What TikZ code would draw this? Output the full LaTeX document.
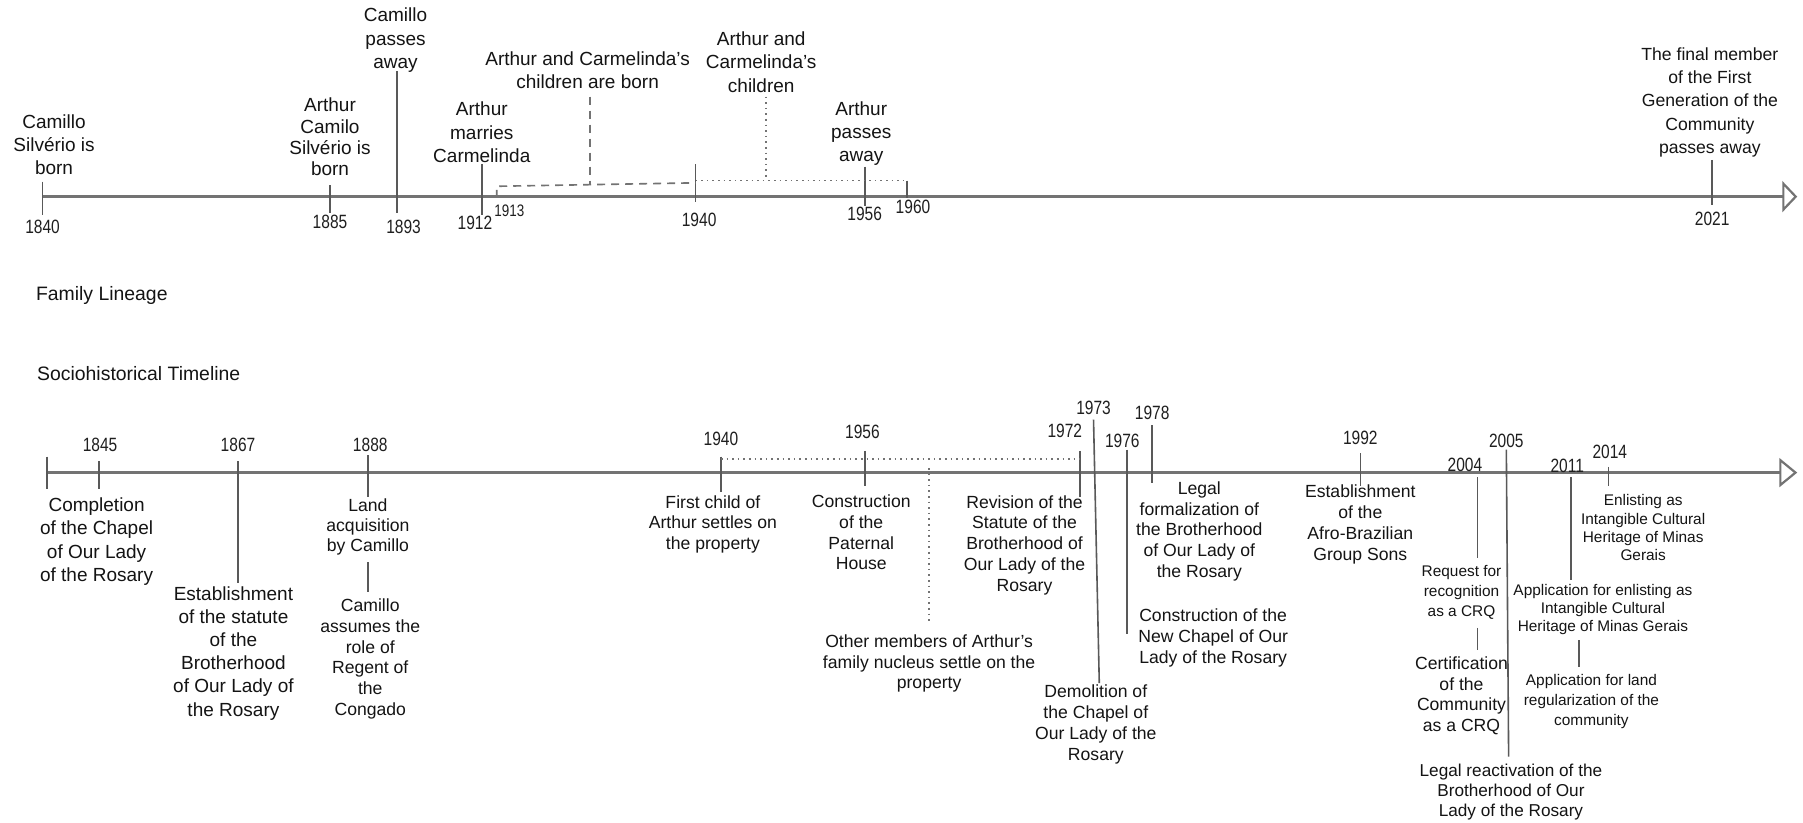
\documentclass[tikz,border=0pt]{standalone}
\usepackage{fontspec}
\setmainfont{Liberation Sans}
\usepackage{graphicx}
\usetikzlibrary{arrows.meta}
\newcommand{\yrtxt}[1]{\scalebox{1.05}[1.3]{#1}}
\begin{document}
\begin{tikzpicture}[x=0.575pt,y=-0.575pt,
 tA/.style={align=center,inner sep=0pt,font=\fontsize{9.5}{11.6}\selectfont,text=black!92},
 tE/.style={align=center,inner sep=0pt,font=\fontsize{8.8}{11.6}\selectfont,text=black!92},
 tB/.style={align=center,inner sep=0pt,font=\fontsize{8.8}{10.4}\selectfont,text=black!92},
 tC/.style={align=center,inner sep=0pt,font=\fontsize{7.7}{9.2}\selectfont,text=black!92},
 head/.style={anchor=west,inner sep=0pt,font=\fontsize{9.7}{11}\selectfont,text=black!92},
 yr/.style={inner sep=0pt,font=\fontsize{7.4}{8}\selectfont,text=black!88},
 yrs/.style={inner sep=0pt,font=\fontsize{6.4}{7}\selectfont,text=black!88},
 axisline/.style={draw=black!55,line width=1.3pt},
 tickline/.style={draw=black!65,line width=0.8pt},
 dashline/.style={draw=black!55,line width=0.8pt,dash pattern=on 4pt off 3pt},
 dotline/.style={draw=black!55,line width=0.8pt,dash pattern=on 0.8pt off 2pt},
]
\useasboundingbox[fill=white] (0,0) rectangle (1568,715);

% ---------------- TOP: Family Lineage ----------------
\coordinate (ta0) at (37,171);
\coordinate (ta1) at (1563,171);
\draw[axisline,-{Triangle[open,length=7.5pt,width=15.5pt,line width=1.1pt]}] (ta0) -- (ta1);

\node[tA] (t1840) at (47,126) {Camillo\\Silvério is\\born};
\node[tA,font=\fontsize{9.5}{10.6}\selectfont] (t1885) at (287,119) {Arthur\\Camilo\\Silvério is\\born};
\node[tA] (t1893) at (344,35) {Camillo\\passes\\away};
\node[tA] (t1912) at (419,115) {Arthur\\marries\\Carmelinda};
\node[tA] (tkids) at (511,61) {Arthur and Carmelinda's\\children are born};
\node[tA] (tkids2) at (662,54) {Arthur and\\Carmelinda's\\children};
\node[tA] (t1956) at (749,116) {Arthur\\passes\\away};
\node[tE] (t2021) at (1487,89) {The final member\\of the First\\Generation of the\\Community\\passes away};

\coordinate (k1840a) at (37,158);  \coordinate (k1840b) at (37,187);
\coordinate (k1885a) at (287,161); \coordinate (k1885b) at (287,185);
\coordinate (k1893a) at (345,62);  \coordinate (k1893b) at (345,185);
\coordinate (k1912a) at (419,143); \coordinate (k1912b) at (419,187);
\coordinate (k1940a) at (605,143); \coordinate (k1940b) at (605,176);
\coordinate (k1956a) at (752,145); \coordinate (k1956b) at (752,179);
\coordinate (k1960a) at (789,157); \coordinate (k1960b) at (789,172);
\coordinate (k2021a) at (1489,139); \coordinate (k2021b) at (1489,178);
\foreach \k in {1840,1885,1893,1912,1940,1956,1960,2021}
  \draw[tickline] (k\k a) -- (k\k b);

\coordinate (d1) at (432,172); \coordinate (d2) at (432,162);
\coordinate (d3) at (605,159);
\coordinate (dm1) at (513,84); \coordinate (dm2) at (513,160.5);
\draw[dashline] (d1) -- (d2) -- (d3);
\draw[dashline] (dm1) -- (dm2);

\coordinate (o1) at (605,157); \coordinate (o2) at (789,157);
\coordinate (om1) at (666,84); \coordinate (om2) at (666,157);
\draw[dotline] (o1) -- (o2);
\draw[dotline] (om1) -- (om2);

\node[yr] (y1840) at (37,197) {\yrtxt{1840}};
\node[yr] (y1885) at (287,193) {\yrtxt{1885}};
\node[yr] (y1893) at (351,197) {\yrtxt{1893}};
\node[yr] (y1912) at (413,194) {\yrtxt{1912}};
\node[yrs] (y1913) at (443,183) {\yrtxt{1913}};
\node[yr] (y1940) at (608,191) {\yrtxt{1940}};
\node[yr] (y1956) at (752,186) {\yrtxt{1956}};
\node[yr] (y1960) at (794,180) {\yrtxt{1960}};
\node[yr] (y2021) at (1489,190) {\yrtxt{2021}};

% ---------------- headings ----------------
\node[head] (hfam) at (31,257) {Family Lineage};
\node[head] (hsoc) at (32,325) {Sociohistorical Timeline};

% ---------------- BOTTOM: Sociohistorical ----------------
\coordinate (ba0) at (41,411);
\coordinate (ba1) at (1563,411);
\draw[axisline,-{Triangle[open,length=9pt,width=14.5pt,line width=1.1pt]}] (ba0) -- (ba1);

\node[tA] (b1845) at (84,471) {Completion\\of the Chapel\\of Our Lady\\of the Rosary};
\node[tA] (b1867) at (203,568) {Establishment\\of the statute\\of the\\Brotherhood\\of Our Lady of\\the Rosary};
\node[tB,font=\fontsize{8.8}{10}\selectfont] (b1888a) at (320,458) {Land\\acquisition\\by Camillo};
\node[tB] (b1888b) at (322,573) {Camillo\\assumes the\\role of\\Regent of\\the\\Congado};
\node[tB] (b1940) at (620,456) {First child of\\Arthur settles on\\the property};
\node[tB] (b1956) at (749,463) {Construction\\of the\\Paternal\\House};
\node[tB] (bother) at (808,577) {Other members of Arthur's\\family nucleus settle on the\\property};
\node[tB] (b1972) at (891,474) {Revision of the\\Statute of the\\Brotherhood of\\Our Lady of the\\Rosary};
\node[tB] (b1973) at (953,630) {Demolition of\\the Chapel of\\Our Lady of the\\Rosary};
\node[tB] (b1976) at (1055,555) {Construction of the\\New Chapel of Our\\Lady of the Rosary};
\node[tB] (b1978) at (1043,462) {Legal\\formalization of\\the Brotherhood\\of Our Lady of\\the Rosary};
\node[tB] (b1992) at (1183,456) {Establishment\\of the\\Afro-Brazilian\\Group Sons};
\node[tC,font=\fontsize{7.7}{10}\selectfont] (b2004a) at (1271,515) {Request for\\recognition\\as a CRQ};
\node[tB] (b2004b) at (1271,605) {Certification\\of the\\Community\\as a CRQ};
\node[tB,font=\fontsize{8.6}{10}\selectfont] (b2005) at (1314,689) {Legal reactivation of the\\Brotherhood of Our\\Lady of the Rosary};
\node[tC,font=\fontsize{7.7}{8.9}\selectfont] (b2011a) at (1394,530) {Application for enlisting as\\Intangible Cultural\\Heritage of Minas Gerais};
\node[tC,font=\fontsize{7.7}{9.8}\selectfont] (b2011b) at (1384,610) {Application for land\\regularization of the\\community};
\node[tC] (b2014) at (1429,459) {Enlisting as\\Intangible Cultural\\Heritage of Minas\\Gerais};

\coordinate (s0a) at (41,397);    \coordinate (s0b) at (41,425);
\coordinate (s1845a) at (86,401); \coordinate (s1845b) at (86,425);
\coordinate (s1867a) at (207,401); \coordinate (s1867b) at (207,507);
\coordinate (s1888a) at (320,396); \coordinate (s1888b) at (320,432);
\coordinate (s1888c) at (320,489); \coordinate (s1888d) at (320,515);
\coordinate (s1940a) at (627,397); \coordinate (s1940b) at (627,428);
\coordinate (s1956a) at (752,392); \coordinate (s1956b) at (752,423);
\coordinate (s1972a) at (939,392); \coordinate (s1972b) at (939,432);
\coordinate (s1973a) at (951,365); \coordinate (s1973b) at (956,594);
\coordinate (s1976a) at (980,391); \coordinate (s1976b) at (980,551);
\coordinate (s1978a) at (1002,370); \coordinate (s1978b) at (1002,420);
\coordinate (s1992a) at (1183,394); \coordinate (s1992b) at (1183,423);
\coordinate (s2004a) at (1285,415); \coordinate (s2004b) at (1285,485);
\coordinate (s2004c) at (1285,546); \coordinate (s2004d) at (1285,565);
\coordinate (s2005a) at (1310,391); \coordinate (s2005b) at (1312,658);
\coordinate (s2011a) at (1366,415); \coordinate (s2011b) at (1366,504);
\coordinate (s2011c) at (1373,557); \coordinate (s2011d) at (1373,580);
\coordinate (s2014a) at (1399,406); \coordinate (s2014b) at (1399,423);
\foreach \k in {0,1845,1867,1888,1940,1956,1972,1973,1976,1978,1992,2004,2005,2011,2014}
  \draw[tickline] (s\k a) -- (s\k b);
\draw[tickline] (s1888c) -- (s1888d);
\draw[tickline] (s2004c) -- (s2004d);
\draw[tickline] (s2011c) -- (s2011d);

\coordinate (p1) at (627,399); \coordinate (p2) at (939,399);
\coordinate (pv1) at (808,407); \coordinate (pv2) at (808,543);
\draw[dotline] (p1) -- (p2);
\draw[dotline] (pv1) -- (pv2);

\node[yr] (z1845) at (87,387) {\yrtxt{1845}};
\node[yr] (z1867) at (207,387) {\yrtxt{1867}};
\node[yr] (z1888) at (322,387) {\yrtxt{1888}};
\node[yr] (z1940) at (627,382) {\yrtxt{1940}};
\node[yr] (z1956) at (750,376) {\yrtxt{1956}};
\node[yr] (z1972) at (926,375) {\yrtxt{1972}};
\node[yr] (z1973) at (951,355) {\yrtxt{1973}};
\node[yr] (z1976) at (976,383) {\yrtxt{1976}};
\node[yr] (z1978) at (1002,359) {\yrtxt{1978}};
\node[yr] (z1992) at (1183,381) {\yrtxt{1992}};
\node[yr] (z2004) at (1274,404) {\yrtxt{2004}};
\node[yr] (z2005) at (1310,383) {\yrtxt{2005}};
\node[yr] (z2011) at (1363,405) {\yrtxt{2011}};
\node[yr] (z2014) at (1400,393) {\yrtxt{2014}};
\end{tikzpicture}
\end{document}
